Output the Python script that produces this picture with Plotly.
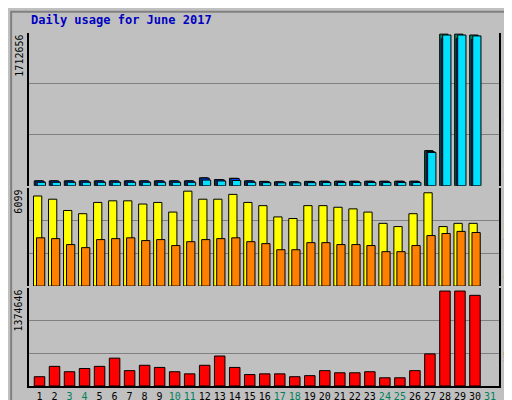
import plotly.graph_objects as go

days = list(range(1, 32))
weekend = [3, 4, 10, 11, 17, 18, 24, 25, 31]

# values (day 31 has no data)
hits = [56000, 56000, 56000, 56000, 56000, 56000, 56000, 56000, 56000, 56000, 56000, 90000, 70000, 85000,
        56000, 50000, 45000, 45000, 50000, 52000, 52000, 52000, 52000, 52000, 52000, 52000, 395000,
        1700000, 1700000, 1690000]
files = [h * 0.97 for h in hits]
pages = [40000, 40000, 40000, 40000, 40000, 40000, 40000, 40000, 40000, 40000, 40000, 65000, 55000, 60000,
         40000, 36000, 34000, 34000, 36000, 38000, 38000, 38000, 38000, 38000, 38000, 38000, 375000,
         1690000, 1690000, 1680000]
visits = [5600, 5400, 4700, 4500, 5200, 5300, 5300, 5100, 5200, 4600, 5900, 5400, 5400, 5700, 5200,
          5000, 4300, 4200, 5000, 5000, 4900, 4800, 4600, 3900, 3700, 4500, 5800, 3700, 3900, 3900]
sites = [3000, 2950, 2580, 2390, 2890, 2950, 3000, 2830, 2890, 2520, 2760, 2890, 2950, 3000, 2760,
         2640, 2260, 2260, 2700, 2700, 2580, 2580, 2520, 2140, 2140, 2520, 3140, 3270, 3400, 3330]
kbytes = [130000, 275000, 200000, 245000, 275000, 390000, 215000, 290000, 260000, 200000, 170000,
          290000, 420000, 260000, 160000, 170000, 170000, 130000, 145000, 215000, 185000, 185000,
          200000, 115000, 115000, 215000, 450000, 1330000, 1330000, 1270000]

max_hits = 1712656
max_visits = 6099
max_kb = 1374646

fig = go.Figure()
d = days[:30]


def bars(vals, color, offset, width, ax):
    fig.add_bar(x=d, y=vals, marker_color=color, marker_line_color="black",
                marker_line_width=1, offset=offset, width=width, xaxis="x", yaxis=ax)


bars(hits, "#00805c", -0.35, 0.55, "y")
bars(files, "#0040ff", -0.25, 0.55, "y")
bars(pages, "#00e0ff", -0.15, 0.55, "y")
bars(visits, "#ffff00", -0.4, 0.55, "y2")
bars(sites, "#ff8000", -0.2, 0.55, "y2")
bars(kbytes, "#ff0000", -0.35, 0.7, "y3")

ticktext = [f"<span style='color:#00805c'>{x}</span>" if x in weekend else str(x) for x in days]


def yax(dom, top):
    return dict(domain=dom, range=[0, top], tickvals=[top / 3, 2 * top / 3], showticklabels=False,
                gridcolor="#808080", gridwidth=1, showline=True, linecolor="black", linewidth=2,
                mirror=True, zeroline=False, fixedrange=True, automargin=False)


fig.update_layout(
    width=512, height=400, barmode="overlay", showlegend=False,
    paper_bgcolor="#c0c0c0", plot_bgcolor="#c0c0c0",
    margin=dict(l=21, r=21, t=25, b=22),
    font=dict(family="DejaVu Sans Mono", size=11, color="black"),
    xaxis=dict(range=[0.3, 31.6], tickvals=days, ticktext=ticktext, showgrid=False, ticks="",
               tickangle=0, tickfont=dict(size=10), automargin=False,
               anchor="y3", showline=True, linecolor="black", linewidth=2, mirror=False),
    yaxis=yax([0.567, 1], max_hits),
    yaxis2=yax([0.283, 0.561], max_visits),
    yaxis3=yax([0, 0.278], max_kb),
)

ann = [
    dict(y=1, text=str(max_hits)),
    dict(y=0.561, text=str(max_visits)),
    dict(y=0.278, text=str(max_kb)),
]
for a in ann:
    fig.add_annotation(xref="paper", yref="paper", x=-0.022, textangle=-90, showarrow=False,
                       xanchor="center", yanchor="top", font=dict(size=10), **a)

right = [
    (0.78, "<span style='color:#00e0ff'>Pages</span> / <span style='color:#0040ff'>Files</span> / "
           "<span style='color:#00805c'>Hits</span>"),
    (0.42, "<span style='color:#ff8000'>Sites</span> / <span style='color:#ffff00'>Visits</span>"),
    (0.12, "<span style='color:#ff0000'>KBytes</span>"),
]
for yy, t in right:
    fig.add_annotation(xref="paper", yref="paper", x=1.02, y=yy, text=t, textangle=-90,
                       showarrow=False, xanchor="center", yanchor="middle", font=dict(size=10))

fig.add_annotation(xref="paper", yref="paper", x=0, y=1.01, text="<b>Daily usage for June 2017</b>",
                   showarrow=False, xanchor="left", yanchor="bottom", font=dict(size=12, color="#0000c0"))

# bevelled frame
fig.add_shape(type="rect", xref="paper", yref="paper", x0=-0.038, x1=1.036, y0=-0.05, y1=1.06,
              line=dict(color="#808080", width=2))

fig.write_html("out.html")
